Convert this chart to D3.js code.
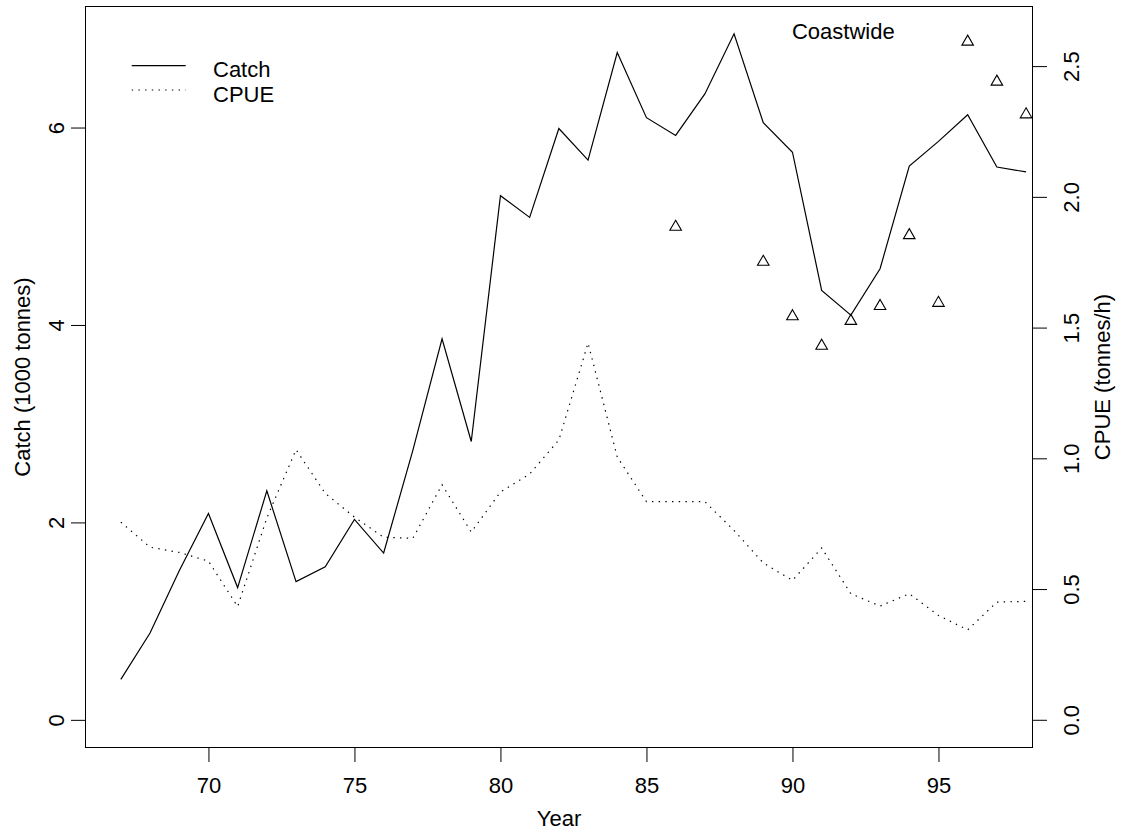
<!DOCTYPE html>
<html>
<head>
<meta charset="utf-8">
<script src="https://cdn.jsdelivr.net/npm/d3@7"></script>
<style>
  html, body { margin: 0; padding: 0; background: #fff; }
  svg { display: block; }
  text { font-family: "Liberation Sans", Arial, sans-serif; fill: #000; }
</style>
</head>
<body>
<svg id="chart" width="1122" height="833"></svg>
<script>
// Coastwide fishery: annual catch and CPUE, 1967-1998
const years = [67, 68, 69, 70, 71, 72, 73, 74, 75, 76, 77, 78, 79, 80, 81, 82,
               83, 84, 85, 86, 87, 88, 89, 90, 91, 92, 93, 94, 95, 96, 97, 98];
// Catch (1000 tonnes)
const catchValues = [0.41, 0.88, 1.51, 2.09, 1.34, 2.32, 1.40, 1.55, 2.03, 1.69, 2.73, 3.86,
                     2.82, 5.31, 5.09, 5.99, 5.67, 6.76, 6.10, 5.92, 6.34, 6.95, 6.05, 5.75,
                     4.35, 4.10, 4.57, 5.61, 5.86, 6.13, 5.60, 5.55];
// CPUE (tonnes/h), fishery series
const cpueValues = [0.756, 0.660, 0.640, 0.607, 0.433, 0.772, 1.033, 0.866, 0.775, 0.698, 0.694, 0.899,
                    0.718, 0.871, 0.940, 1.070, 1.441, 1.005, 0.834, 0.834, 0.834, 0.724, 0.600, 0.533,
                    0.657, 0.482, 0.435, 0.482, 0.399, 0.344, 0.450, 0.453];
// CPUE (tonnes/h), point estimates shown as triangles
const pointYears = [86, 89, 90, 91, 92, 93, 94, 95, 96, 97, 98];
const pointValues = [1.885, 1.751, 1.543, 1.430, 1.525, 1.582, 1.853, 1.594, 2.593, 2.440, 2.315];

const xTicks = [70, 75, 80, 85, 90, 95];
const leftTicks = [0, 2, 4, 6];
const rightTicks = [0.0, 0.5, 1.0, 1.5, 2.0, 2.5];

const plot = { left: 85.5, right: 1032.5, top: 6.5, bottom: 747.5 };
const fontSize = 22;
const tickLen = 14.5;

const svg = d3.select("#chart");

const x = d3.scaleLinear().domain([65.79, 98.22]).range([plot.left, plot.right]);
const yLeft = d3.scaleLinear().domain([-0.28, 7.226]).range([plot.bottom, plot.top]);
const yRight = d3.scaleLinear().domain([-0.106, 2.728]).range([plot.bottom, plot.top]);

// Bottom axis
const gx = svg.append("g")
  .attr("transform", `translate(0,${plot.bottom})`)
  .call(d3.axisBottom(x).tickValues(xTicks).tickFormat(d3.format("d"))
        .tickSize(tickLen).tickPadding(15));
gx.select(".domain").remove();
gx.selectAll("text").style("font-size", fontSize + "px").style("font-family", null);
gx.selectAll("line").attr("stroke", "#000");

// Left axis, labels rotated
const gl = svg.append("g")
  .attr("transform", `translate(${plot.left},0)`)
  .call(d3.axisLeft(yLeft).tickValues(leftTicks).tickFormat(d3.format("d")).tickSize(tickLen));
gl.select(".domain").remove();
gl.selectAll("line").attr("stroke", "#000");
gl.selectAll("text")
  .attr("x", null).attr("dy", null)
  .attr("text-anchor", "middle")
  .attr("transform", "translate(-22,0) rotate(-90)")
  .style("font-size", fontSize + "px").style("font-family", null);

// Right axis, labels rotated
const gr = svg.append("g")
  .attr("transform", `translate(${plot.right},0)`)
  .call(d3.axisRight(yRight).tickValues(rightTicks).tickFormat(d3.format(".1f")).tickSize(tickLen));
gr.select(".domain").remove();
gr.selectAll("line").attr("stroke", "#000");
gr.selectAll("text")
  .attr("x", null).attr("dy", null)
  .attr("text-anchor", "middle")
  .attr("transform", "translate(46,0) rotate(-90)")
  .style("font-size", fontSize + "px").style("font-family", null);

// Plot frame
svg.append("rect")
  .attr("x", plot.left).attr("y", plot.top)
  .attr("width", plot.right - plot.left).attr("height", plot.bottom - plot.top)
  .attr("fill", "none").attr("stroke", "#000").attr("stroke-width", 1);

// Catch line (solid)
const catchLine = d3.line().x((d, i) => x(years[i])).y(d => yLeft(d));
svg.append("path")
  .attr("d", catchLine(catchValues))
  .attr("fill", "none").attr("stroke", "#000").attr("stroke-width", 1.2);

// CPUE line (dotted)
const cpueLine = d3.line().x((d, i) => x(years[i])).y(d => yRight(d));
svg.append("path")
  .attr("d", cpueLine(cpueValues))
  .attr("fill", "none").attr("stroke", "#000").attr("stroke-width", 1.2)
  .attr("stroke-dasharray", "1.4,5.3");

// CPUE points (open triangles)
svg.append("g").selectAll("path")
  .data(pointValues)
  .join("path")
  .attr("d", d3.symbol().type(d3.symbolTriangle).size(58))
  .attr("transform", (d, i) => `translate(${x(pointYears[i])},${yRight(d)})`)
  .attr("fill", "none").attr("stroke", "#000").attr("stroke-width", 1.1);

// Legend
const legend = svg.append("g");
legend.append("line")
  .attr("x1", 131.7).attr("x2", 185.7).attr("y1", 65.7).attr("y2", 65.7)
  .attr("stroke", "#000").attr("stroke-width", 1.2);
legend.append("line")
  .attr("x1", 131.7).attr("x2", 185.7).attr("y1", 90).attr("y2", 90)
  .attr("stroke", "#000").attr("stroke-width", 1.2).attr("stroke-dasharray", "1.4,5.3");
legend.append("text").attr("x", 213).attr("y", 76.7)
  .style("font-size", fontSize + "px").text("Catch");
legend.append("text").attr("x", 213).attr("y", 101.7)
  .style("font-size", fontSize + "px").text("CPUE");

// Area title
svg.append("text")
  .attr("x", 843.3).attr("y", 39.3).attr("text-anchor", "middle")
  .style("font-size", fontSize + "px").text("Coastwide");

// Axis titles
const midY = (plot.top + plot.bottom) / 2;
svg.append("text")
  .attr("x", (plot.left + plot.right) / 2).attr("y", 825.7).attr("text-anchor", "middle")
  .style("font-size", fontSize + "px").text("Year");
svg.append("text")
  .attr("text-anchor", "middle")
  .attr("transform", `translate(30,${midY}) rotate(-90)`)
  .style("font-size", fontSize + "px").text("Catch (1000 tonnes)");
svg.append("text")
  .attr("text-anchor", "middle")
  .attr("transform", `translate(1110,${midY}) rotate(-90)`)
  .style("font-size", fontSize + "px").text("CPUE (tonnes/h)");
</script>
</body>
</html>
